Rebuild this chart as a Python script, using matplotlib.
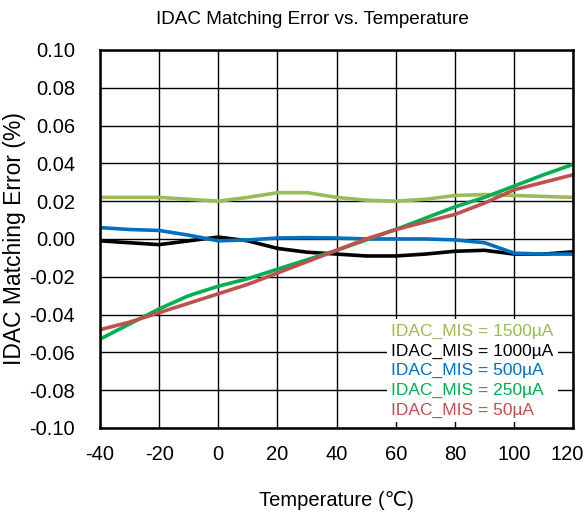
import matplotlib.pyplot as plt
from matplotlib.transforms import ScaledTranslation

plt.rcParams['font.family'] = ['Liberation Sans', 'DejaVu Sans']
plt.rcParams['axes.unicode_minus'] = False

# --- data ---
temp = [-40, -30, -20, -10, 0, 10, 20, 30, 40, 50, 60, 70, 80, 90, 100, 110, 120]

err_1500 = [0.022, 0.022, 0.022, 0.021, 0.020, 0.022, 0.0245, 0.0245, 0.022, 0.0205,
            0.020, 0.021, 0.023, 0.0235, 0.023, 0.0225, 0.022]
err_1000 = [-0.001, -0.002, -0.003, -0.001, 0.001, -0.001, -0.005, -0.007, -0.008, -0.009,
            -0.009, -0.008, -0.0065, -0.006, -0.008, -0.008, -0.0068]
err_500 = [0.006, 0.005, 0.0045, 0.002, -0.001, -0.0005, 0.0005, 0.0007, 0.0005, 0.0,
           0.0, 0.0, -0.0005, -0.002, -0.0075, -0.008, -0.008]
err_250 = [-0.053, -0.045, -0.037, -0.030, -0.025, -0.021, -0.016, -0.011, -0.006, -0.0005,
           0.005, 0.011, 0.017, 0.022, 0.028, 0.034, 0.0395]
err_50 = [-0.048, -0.044, -0.039, -0.034, -0.029, -0.024, -0.018, -0.012, -0.006, 0.0,
          0.005, 0.009, 0.013, 0.019, 0.026, 0.030, 0.034]

series = [
    ("IDAC_MIS = 1500µA", err_1500, "#9BBB59"),
    ("IDAC_MIS = 1000µA", err_1000, "#000000"),
    ("IDAC_MIS = 500µA", err_500, "#0070C0"),
    ("IDAC_MIS = 250µA", err_250, "#00B050"),
    ("IDAC_MIS = 50µA", err_50, "#C0504D"),
]

x_ticks = [-40, -20, 0, 20, 40, 60, 80, 100, 120]
y_ticks = [-0.10, -0.08, -0.06, -0.04, -0.02, 0.0, 0.02, 0.04, 0.06, 0.08, 0.10]

# --- plot ---
fig = plt.figure(figsize=(5.88, 5.15), dpi=100)
ax = fig.add_axes([0.170, 0.169, 0.805, 0.734])

for label, vals, col in series:
    ax.plot(temp, vals, color=col, linewidth=2.6, label=label,
            solid_capstyle='round', solid_joinstyle='round')

ax.set_xlim(-40, 120)
ax.set_ylim(-0.10, 0.10)
ax.set_xticks(x_ticks)
ax.set_yticks(y_ticks)
ax.set_yticklabels([f"{v:.2f}" for v in y_ticks])
ax.tick_params(labelsize=14.5, length=0)
ax.tick_params(axis='x', pad=12)
ax.tick_params(axis='y', pad=18)
ax.grid(True, color='black', linewidth=1.0)
ax.set_axisbelow(True)
for s in ax.spines.values():
    s.set_linewidth(1.8)

# last x label sits a bit left so it stays inside the figure
last = ax.get_xticklabels()[-1]
last.set_transform(last.get_transform() + ScaledTranslation(-0.06, 0, fig.dpi_scale_trans))

fig.text(0.531, 0.962, "IDAC Matching Error vs. Temperature", fontsize=13.6,
         ha='center', va='center')
ax.set_xlabel("Temperature (℃)", fontsize=14.5, labelpad=20)
ax.set_ylabel("IDAC Matching Error (%)", fontsize=16.5, va='center')
ax.yaxis.set_label_coords(-0.18, 0.5)

leg = ax.legend(loc='upper left', bbox_to_anchor=(0.606, 0.287), fontsize=12.5,
                handlelength=0, handletextpad=0, labelspacing=0.25,
                frameon=True, fancybox=False, framealpha=1, borderpad=0.25,
                borderaxespad=0)
leg.get_frame().set_edgecolor('none')
for txt, (_, _, col) in zip(leg.get_texts(), series):
    txt.set_color(col)
for h in leg.legend_handles:
    h.set_visible(False)

fig.savefig("out.png", dpi=100)
